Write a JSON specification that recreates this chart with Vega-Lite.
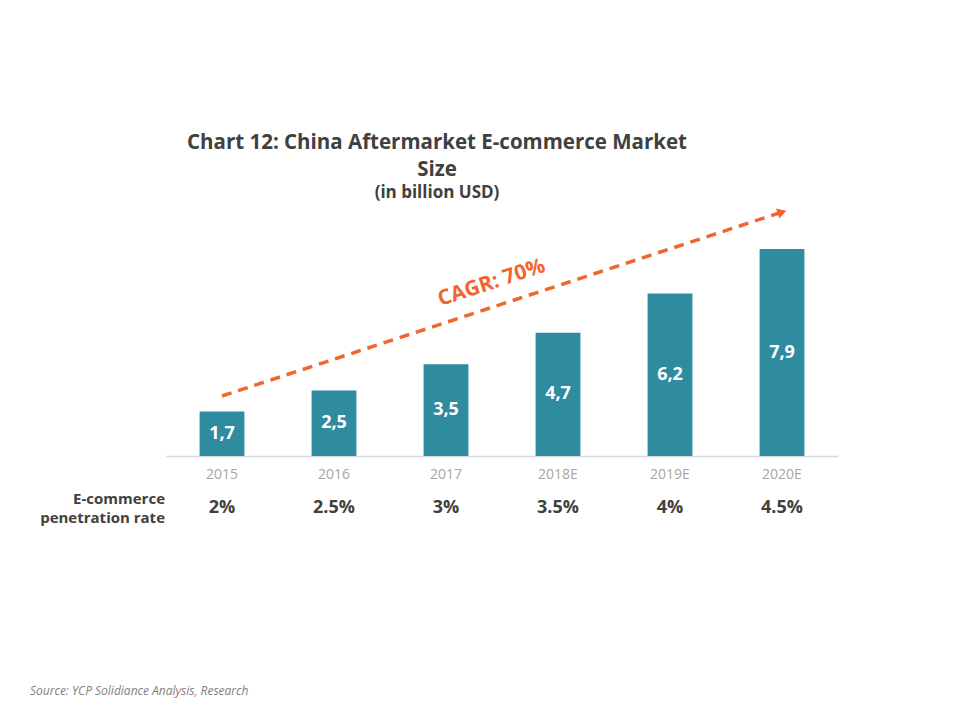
{
  "$schema": "https://vega.github.io/schema/vega-lite/v6.json",
  "width": 672,
  "height": 262,
  "autosize": {"type": "none"},
  "padding": {"left": 166, "right": 122, "top": 194, "bottom": 264},
  "background": "white",
  "title": {
    "text": ["Chart 12: China Aftermarket E-commerce Market", "Size"],
    "subtitle": "(in billion USD)",
    "anchor": "middle",
    "dx": -65,
    "offset": -7,
    "font": "Open Sans",
    "fontSize": 20.5,
    "fontWeight": "bold",
    "color": "#404040",
    "lineHeight": 27,
    "subtitleFont": "Open Sans",
    "subtitleFontSize": 17,
    "subtitleFontWeight": "bold",
    "subtitleColor": "#404040",
    "subtitlePadding": 5
  },
  "datasets": {
    "market": [
      {"year": "2015", "size": 1.7, "rate": "2%"},
      {"year": "2016", "size": 2.5, "rate": "2.5%"},
      {"year": "2017", "size": 3.5, "rate": "3%"},
      {"year": "2018E", "size": 4.7, "rate": "3.5%"},
      {"year": "2019E", "size": 6.2, "rate": "4%"},
      {"year": "2020E", "size": 7.9, "rate": "4.5%"}
    ],
    "arrow": [
      {"year": "2015", "level": 2.29},
      {"year": "2020E", "level": 9.31}
    ],
    "single": [{}]
  },
  "resolve": {"scale": {"y": "independent"}},
  "layer": [
    {
      "data": {"name": "market"},
      "mark": {"type": "bar", "color": "#2E8BA0"},
      "encoding": {
        "x": {
          "field": "year",
          "type": "nominal",
          "sort": null,
          "scale": {"domain": ["2015", "2016", "2017", "2018E", "2019E", "2020E"], "paddingInner": 0.6, "paddingOuter": 0.3},
          "axis": {
            "title": null,
            "labelAngle": 0,
            "ticks": false,
            "domain": true,
            "domainColor": "#D9D9D9",
            "domainWidth": 1.5,
            "labelFont": "Open Sans",
            "labelFontSize": 14,
            "labelColor": "#A6A6A6",
            "labelPadding": 11,
            "grid": false
          }
        },
        "y": {"field": "size", "type": "quantitative", "scale": {"domain": [0, 10], "nice": false}, "axis": null}
      }
    },
    {
      "data": {"name": "market"},
      "mark": {"type": "text", "color": "white", "font": "Open Sans", "fontWeight": "bold", "fontSize": 18, "baseline": "middle", "align": "center"},
      "encoding": {
        "x": {"field": "year", "type": "nominal", "sort": null},
        "y": {"field": "size", "type": "quantitative", "scale": {"domain": [0, 20], "nice": false}, "axis": null},
        "text": {"field": "size", "type": "quantitative", "format": ".1f"}
      }
    },
    {
      "data": {"name": "market"},
      "mark": {"type": "text", "color": "#404040", "font": "Open Sans", "fontWeight": "bold", "fontSize": 18, "baseline": "middle", "align": "center"},
      "encoding": {
        "x": {"field": "year", "type": "nominal", "sort": null},
        "y": {"datum": -2.0, "type": "quantitative", "scale": {"domain": [0, 10], "nice": false}, "axis": null},
        "text": {"field": "rate"}
      }
    },
    {
      "data": {"name": "arrow"},
      "mark": {"type": "line", "color": "#F26430", "strokeWidth": 3.5, "strokeDash": [10, 7]},
      "encoding": {
        "x": {"field": "year", "type": "nominal", "sort": null},
        "y": {"field": "level", "type": "quantitative", "scale": {"domain": [0, 10], "nice": false}, "axis": null}
      }
    },
    {
      "data": {"name": "single"},
      "mark": {"type": "point", "shape": "triangle-right", "filled": true, "color": "#F26430", "opacity": 1, "size": 110, "angle": -18.2},
      "encoding": {
        "x": {"datum": "2020E", "type": "nominal"},
        "y": {"datum": 9.31, "type": "quantitative", "scale": {"domain": [0, 10], "nice": false}, "axis": null}
      }
    },
    {
      "data": {"name": "single"},
      "mark": {"type": "text", "text": "CAGR: 70%", "color": "#F26430", "font": "Open Sans", "fontWeight": "bold", "fontSize": 21, "angle": -18.2, "align": "center", "baseline": "middle", "dx": 48},
      "encoding": {
        "x": {"datum": "2017", "type": "nominal"},
        "y": {"datum": 6.03, "type": "quantitative", "scale": {"domain": [0, 10], "nice": false}, "axis": null}
      }
    },
    {
      "data": {"name": "single"},
      "mark": {"type": "text", "text": ["E-commerce", "penetration rate"], "color": "#404040", "font": "Open Sans", "fontWeight": "bold", "fontSize": 15, "lineHeight": 19, "align": "right", "baseline": "middle", "dx": -57, "dy": -9},
      "encoding": {
        "x": {"datum": "2015", "type": "nominal"},
        "y": {"datum": -2.0, "type": "quantitative", "scale": {"domain": [0, 10], "nice": false}, "axis": null}
      }
    },
    {
      "data": {"name": "single"},
      "mark": {"type": "text", "text": "Source: YCP Solidiance Analysis, Research", "color": "#7F7F7F", "font": "Open Sans", "fontStyle": "italic", "fontSize": 12, "align": "left", "baseline": "middle", "dx": -192},
      "encoding": {
        "x": {"datum": "2015", "type": "nominal"},
        "y": {"datum": -8.97, "type": "quantitative", "scale": {"domain": [0, 10], "nice": false}, "axis": null}
      }
    }
  ],
  "config": {
    "view": {"stroke": null},
    "locale": {"number": {"decimal": ",", "thousands": ".", "grouping": [3], "currency": ["", ""]}}
  }
}
